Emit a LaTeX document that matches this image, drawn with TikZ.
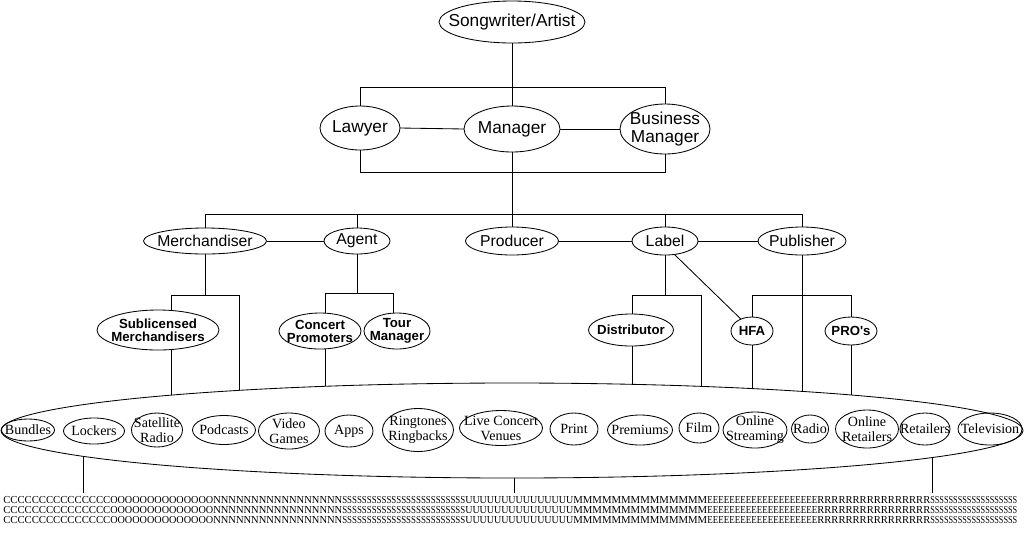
\documentclass[tikz,border=0pt]{standalone}
\usepackage{fontspec}
\usepackage{graphicx}
\setmainfont{Liberation Serif}
\newfontfamily\arialf{Liberation Sans}
\usetikzlibrary{shapes.geometric}
\newlength\pxu
\setlength\pxu{0.025cm}
\newcommand\seg[2]{\resizebox{#1\pxu}{\height}{#2}}
\newcommand\consrow{%
\seg{107}{CCCCCCCCCCCCCCC}%
\seg{103}{OOOOOOOOOOOOOO}%
\seg{129}{NNNNNNNNNNNNNNNNN}%
\seg{123}{SSSSSSSSSSSSSSSSSSSSSSSSS}%
\seg{108}{UUUUUUUUUUUUUUU}%
\seg{134}{MMMMMMMMMMMMMM}%
\seg{110}{EEEEEEEEEEEEEEEEEEEE}%
\seg{113}{RRRRRRRRRRRRRRRR}%
\seg{87}{SSSSSSSSSSSSSSSSSSS}}
\tikzset{
  ell/.style 2 args={ellipse, draw, line width=0.6pt, inner sep=0pt, outer sep=0pt,
    minimum width=#1*0.025cm, minimum height=#2*0.025cm},
  lbl/.style={inner sep=0pt, align=center},
  topf/.style={font=\arialf\fontsize{12.3}{12.3}\selectfont},
  midf/.style={font=\arialf\fontsize{11.2}{12}\selectfont},
  lowf/.style={font=\arialf\bfseries\fontsize{9.4}{9.2}\selectfont},
  mediaf/.style={font=\fontsize{10}{10.6}\selectfont},
  conn/.style={line width=0.6pt},
  rowf/.style={anchor=west, inner sep=0pt, font=\fontsize{7.6}{7.6}\selectfont},
}
\newcommand\EN[6]{\node[ell={#3}{#4}] (#1) at (#2) {};
  \node[lbl,#5] (#1-t) at (#1.center) {#6};}
\begin{document}
\begin{tikzpicture}[x=0.025cm, y=-0.025cm]
\useasboundingbox[fill=white] (0,0) rectangle (1024,535);
% top
\EN{art}{512,22}{146}{42}{topf}{Songwriter/Artist}
\EN{law}{360,128}{80}{44}{topf}{Lawyer}
\EN{man}{512,129}{96}{46}{topf}{Manager}
\EN{bm}{665,129}{90}{50}{topf}{Business\\Manager}
% middle
\EN{merch}{205,241}{123}{26}{midf}{Merchandiser}
\EN{agent}{357,241}{66}{26}{midf}{Agent}
\EN{prod}{512,241}{93}{28}{midf}{Producer}
\EN{label}{665,241}{66}{28}{midf}{Label}
\EN{pub}{802,241}{88}{28}{midf}{Publisher}
% lower
\EN{sub}{158,330}{122}{40}{lowf}{Sublicensed\\Merchandisers}
\EN{cp}{320,331}{82}{36}{lowf}{Concert\\Promoters}
\EN{tm}{397,331}{66}{36}{lowf}{Tour\\Manager}
\EN{dist}{631,330}{85}{32}{lowf}{Distributor}
\EN{hfa}{752,331}{42}{28}{lowf}{HFA}
\EN{pro}{851,331}{52}{28}{lowf}{PRO's}
% big ellipse
\node[ell={1022}{95}] (cons) at (512,430.5) {};
% media
\EN{bund}{28,430}{53}{22}{mediaf}{Bundles}
\EN{lock}{94,431}{61}{26}{mediaf}{Lockers}
\EN{sat}{157,430}{51}{34}{mediaf}{Satellite\\Radio}
\EN{pod}{224,430}{63}{29}{mediaf}{Podcasts}
\EN{vid}{289,431}{61}{36}{mediaf}{Video\\Games}
\EN{apps}{349,431}{48}{32}{mediaf}{Apps}
\EN{ring}{418,430}{71}{43}{mediaf}{Ringtones\\Ringbacks}
\EN{live}{501,428}{83}{35}{mediaf}{Live Concert\\Venues}
\EN{print}{574,429}{48}{32}{mediaf}{Print}
\EN{prem}{640,430}{65}{30}{mediaf}{Premiums}
\EN{film}{699,428}{40}{30}{mediaf}{Film}
\EN{ostr}{755,430}{64}{36}{mediaf}{Online\\Streaming}
\EN{radio}{810,429}{37}{28}{mediaf}{Radio}
\EN{oret}{867,429}{63}{38}{mediaf}{Online\\Retailers}
\EN{ret}{925,429}{50}{32}{mediaf}{Retailers}
\EN{tv}{990,429}{64}{32}{mediaf}{Television}
% bottom rows
\node[rowf] (r1) at (3,499.5) {\consrow};
\node[rowf] (r2) at (3,509.5) {\consrow};
\node[rowf] (r3) at (3,519.5) {\consrow};
% coordinates
\coordinate (m1) at (171,295);
\coordinate (m2) at (239,295);
\coordinate (e1) at (171,395.1);
\coordinate (e2) at (239,390.3);
\coordinate (a1) at (325,293);
\coordinate (a2) at (393,293);
\coordinate (e3) at (325,386.3);
\coordinate (l1) at (632,295);
\coordinate (l2) at (701,295);
\coordinate (e4) at (632,384.3);
\coordinate (e5) at (701,386.3);
\coordinate (p1) at (752,295);
\coordinate (p2) at (851,295);
\coordinate (e6) at (802,391.4);
\coordinate (e7) at (752,388.6);
\coordinate (e8) at (851,395.0);
\coordinate (e9) at (83,456.3);
\coordinate (e11) at (932,457.6);
\coordinate (b1) at (83,493);
\coordinate (b2) at (514,493);
\coordinate (b3) at (932,493);
% connectors
\draw[conn] (art.south) -- (man.north);
\draw[conn] (law.north) -- (law.north |- 0,87) -| (bm.north);
\draw[conn] (law.east) -- (man.west);
\draw[conn] (man.east) -- (bm.west);
\draw[conn] (law.south) -- (law.south |- 0,172) -| (bm.south);
\draw[conn] (man.south) -- (prod.north);
\draw[conn] (merch.north) -- (merch.north |- 0,214) -| (pub.north);
\draw[conn] (agent.north) -- (agent.north |- 0,214);
\draw[conn] (label.north) -- (label.north |- 0,214);
\draw[conn] (merch.east) -- (agent.west);
\draw[conn] (prod.east) -- (label.west);
\draw[conn] (label.east) -- (pub.west);
% merchandiser branch
\draw[conn] (merch.south) -- (merch.south |- m1);
\draw[conn] (sub.north -| m1) -- (m1) -- (m2) -- (e2);
\draw[conn] (sub.south -| m1) -- (e1);
% agent branch
\draw[conn] (agent.south) -- (agent.south |- a1);
\draw[conn] (cp.north -| a1) -- (a1) -- (a2) -- (tm.north -| a2);
\draw[conn] (cp.south -| a1) -- (e3);
% label branch
\draw[conn] (label.south) -- (label.south |- l1);
\draw[conn] (dist.north -| l1) -- (l1) -- (l2) -- (e5);
\draw[conn] (dist.south -| l1) -- (e4);
\draw[conn] (label.-55) -- (hfa.133);
% publisher branch
\draw[conn] (pub.south) -- (e6);
\draw[conn] (hfa.north) -- (p1) -- (p2) -- (pro.north);
\draw[conn] (hfa.south) -- (e7);
\draw[conn] (pro.south) -- (e8);
% to consumers
\draw[conn] (e9) -- (b1);
\draw[conn] (cons.south -| b2) -- (b2);
\draw[conn] (e11) -- (b3);
\end{tikzpicture}
\end{document}
